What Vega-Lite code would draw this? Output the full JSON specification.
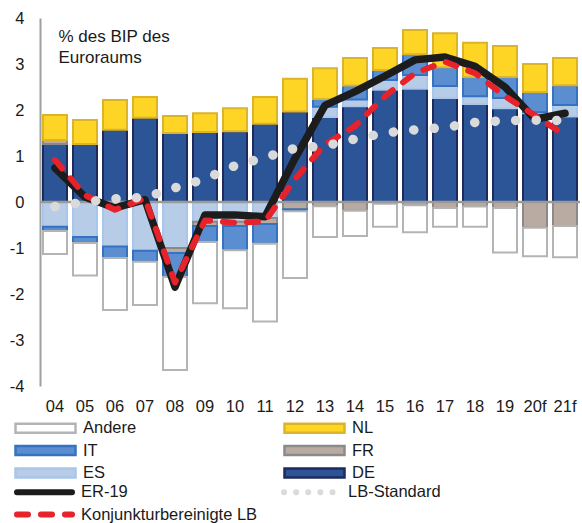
{
  "$schema": "https://vega.github.io/schema/vega-lite/v6.json",
  "width": 540,
  "height": 368,
  "autosize": "none",
  "padding": {"left": 40, "top": 18, "right": 2, "bottom": 137},
  "background": "white",
  "config": {
    "view": {"stroke": null},
    "font": "Liberation Sans",
    "legend": {"labelFont": "Liberation Sans", "labelFontSize": 16.5, "labelColor": "#1a1a1a", "padding": 0, "labelLimit": 300}
  },
  "datasets": {
    "balken": [
      {"Jahr": "04", "Komponente": "DE", "Wert": 1.26},
      {"Jahr": "04", "Komponente": "FR", "Wert": 0.09},
      {"Jahr": "04", "Komponente": "NL", "Wert": 0.54},
      {"Jahr": "04", "Komponente": "ES", "Wert": -0.54},
      {"Jahr": "04", "Komponente": "IT", "Wert": -0.09},
      {"Jahr": "04", "Komponente": "Andere", "Wert": -0.5},
      {"Jahr": "05", "Komponente": "DE", "Wert": 1.26},
      {"Jahr": "05", "Komponente": "NL", "Wert": 0.52},
      {"Jahr": "05", "Komponente": "ES", "Wert": -0.76},
      {"Jahr": "05", "Komponente": "IT", "Wert": -0.13},
      {"Jahr": "05", "Komponente": "Andere", "Wert": -0.71},
      {"Jahr": "06", "Komponente": "DE", "Wert": 1.57},
      {"Jahr": "06", "Komponente": "NL", "Wert": 0.65},
      {"Jahr": "06", "Komponente": "ES", "Wert": -0.97},
      {"Jahr": "06", "Komponente": "IT", "Wert": -0.25},
      {"Jahr": "06", "Komponente": "Andere", "Wert": -1.13},
      {"Jahr": "07", "Komponente": "DE", "Wert": 1.83},
      {"Jahr": "07", "Komponente": "NL", "Wert": 0.45},
      {"Jahr": "07", "Komponente": "ES", "Wert": -1.06},
      {"Jahr": "07", "Komponente": "IT", "Wert": -0.24},
      {"Jahr": "07", "Komponente": "Andere", "Wert": -0.94},
      {"Jahr": "08", "Komponente": "DE", "Wert": 1.5},
      {"Jahr": "08", "Komponente": "NL", "Wert": 0.37},
      {"Jahr": "08", "Komponente": "ES", "Wert": -1.0},
      {"Jahr": "08", "Komponente": "FR", "Wert": -0.11},
      {"Jahr": "08", "Komponente": "IT", "Wert": -0.52},
      {"Jahr": "08", "Komponente": "Andere", "Wert": -2.02},
      {"Jahr": "09", "Komponente": "DE", "Wert": 1.52},
      {"Jahr": "09", "Komponente": "NL", "Wert": 0.41},
      {"Jahr": "09", "Komponente": "ES", "Wert": -0.43},
      {"Jahr": "09", "Komponente": "FR", "Wert": -0.09},
      {"Jahr": "09", "Komponente": "IT", "Wert": -0.35},
      {"Jahr": "09", "Komponente": "Andere", "Wert": -1.33},
      {"Jahr": "10", "Komponente": "DE", "Wert": 1.54},
      {"Jahr": "10", "Komponente": "NL", "Wert": 0.5},
      {"Jahr": "10", "Komponente": "ES", "Wert": -0.43},
      {"Jahr": "10", "Komponente": "FR", "Wert": -0.09},
      {"Jahr": "10", "Komponente": "IT", "Wert": -0.53},
      {"Jahr": "10", "Komponente": "Andere", "Wert": -1.26},
      {"Jahr": "11", "Komponente": "DE", "Wert": 1.7},
      {"Jahr": "11", "Komponente": "NL", "Wert": 0.58},
      {"Jahr": "11", "Komponente": "ES", "Wert": -0.35},
      {"Jahr": "11", "Komponente": "FR", "Wert": -0.13},
      {"Jahr": "11", "Komponente": "IT", "Wert": -0.43},
      {"Jahr": "11", "Komponente": "Andere", "Wert": -1.69},
      {"Jahr": "12", "Komponente": "DE", "Wert": 1.97},
      {"Jahr": "12", "Komponente": "NL", "Wert": 0.71},
      {"Jahr": "12", "Komponente": "FR", "Wert": -0.16},
      {"Jahr": "12", "Komponente": "IT", "Wert": -0.04},
      {"Jahr": "12", "Komponente": "Andere", "Wert": -1.45},
      {"Jahr": "13", "Komponente": "DE", "Wert": 1.85},
      {"Jahr": "13", "Komponente": "ES", "Wert": 0.22},
      {"Jahr": "13", "Komponente": "IT", "Wert": 0.17},
      {"Jahr": "13", "Komponente": "NL", "Wert": 0.67},
      {"Jahr": "13", "Komponente": "FR", "Wert": -0.09},
      {"Jahr": "13", "Komponente": "Andere", "Wert": -0.67},
      {"Jahr": "14", "Komponente": "DE", "Wert": 2.08},
      {"Jahr": "14", "Komponente": "ES", "Wert": 0.15},
      {"Jahr": "14", "Komponente": "IT", "Wert": 0.3},
      {"Jahr": "14", "Komponente": "NL", "Wert": 0.6},
      {"Jahr": "14", "Komponente": "FR", "Wert": -0.19},
      {"Jahr": "14", "Komponente": "Andere", "Wert": -0.55},
      {"Jahr": "15", "Komponente": "DE", "Wert": 2.44},
      {"Jahr": "15", "Komponente": "ES", "Wert": 0.21},
      {"Jahr": "15", "Komponente": "IT", "Wert": 0.22},
      {"Jahr": "15", "Komponente": "NL", "Wert": 0.48},
      {"Jahr": "15", "Komponente": "FR", "Wert": -0.04},
      {"Jahr": "15", "Komponente": "Andere", "Wert": -0.5},
      {"Jahr": "16", "Komponente": "DE", "Wert": 2.46},
      {"Jahr": "16", "Komponente": "ES", "Wert": 0.3},
      {"Jahr": "16", "Komponente": "IT", "Wert": 0.45},
      {"Jahr": "16", "Komponente": "NL", "Wert": 0.53},
      {"Jahr": "16", "Komponente": "FR", "Wert": -0.07},
      {"Jahr": "16", "Komponente": "Andere", "Wert": -0.59},
      {"Jahr": "17", "Komponente": "DE", "Wert": 2.26},
      {"Jahr": "17", "Komponente": "ES", "Wert": 0.26},
      {"Jahr": "17", "Komponente": "IT", "Wert": 0.41},
      {"Jahr": "17", "Komponente": "NL", "Wert": 0.74},
      {"Jahr": "17", "Komponente": "FR", "Wert": -0.13},
      {"Jahr": "17", "Komponente": "Andere", "Wert": -0.41},
      {"Jahr": "18", "Komponente": "DE", "Wert": 2.13},
      {"Jahr": "18", "Komponente": "ES", "Wert": 0.17},
      {"Jahr": "18", "Komponente": "IT", "Wert": 0.42},
      {"Jahr": "18", "Komponente": "NL", "Wert": 0.74},
      {"Jahr": "18", "Komponente": "FR", "Wert": -0.1},
      {"Jahr": "18", "Komponente": "Andere", "Wert": -0.44},
      {"Jahr": "19", "Komponente": "DE", "Wert": 2.04},
      {"Jahr": "19", "Komponente": "ES", "Wert": 0.22},
      {"Jahr": "19", "Komponente": "IT", "Wert": 0.46},
      {"Jahr": "19", "Komponente": "NL", "Wert": 0.67},
      {"Jahr": "19", "Komponente": "FR", "Wert": -0.13},
      {"Jahr": "19", "Komponente": "Andere", "Wert": -0.97},
      {"Jahr": "20f", "Komponente": "DE", "Wert": 1.93},
      {"Jahr": "20f", "Komponente": "ES", "Wert": 0.02},
      {"Jahr": "20f", "Komponente": "IT", "Wert": 0.44},
      {"Jahr": "20f", "Komponente": "NL", "Wert": 0.61},
      {"Jahr": "20f", "Komponente": "FR", "Wert": -0.56},
      {"Jahr": "20f", "Komponente": "Andere", "Wert": -0.62},
      {"Jahr": "21f", "Komponente": "DE", "Wert": 1.86},
      {"Jahr": "21f", "Komponente": "ES", "Wert": 0.25},
      {"Jahr": "21f", "Komponente": "IT", "Wert": 0.43},
      {"Jahr": "21f", "Komponente": "NL", "Wert": 0.59},
      {"Jahr": "21f", "Komponente": "FR", "Wert": -0.52},
      {"Jahr": "21f", "Komponente": "Andere", "Wert": -0.68}
    ],
    "linien": [
      {"Jahr": "04", "Reihe": "ER-19", "Wert": 0.74},
      {"Jahr": "05", "Reihe": "ER-19", "Wert": 0.11},
      {"Jahr": "06", "Reihe": "ER-19", "Wert": -0.13},
      {"Jahr": "07", "Reihe": "ER-19", "Wert": 0.05},
      {"Jahr": "08", "Reihe": "ER-19", "Wert": -1.85},
      {"Jahr": "09", "Reihe": "ER-19", "Wert": -0.28},
      {"Jahr": "10", "Reihe": "ER-19", "Wert": -0.28},
      {"Jahr": "11", "Reihe": "ER-19", "Wert": -0.32},
      {"Jahr": "12", "Reihe": "ER-19", "Wert": 0.95},
      {"Jahr": "13", "Reihe": "ER-19", "Wert": 2.1},
      {"Jahr": "14", "Reihe": "ER-19", "Wert": 2.4},
      {"Jahr": "15", "Reihe": "ER-19", "Wert": 2.74},
      {"Jahr": "16", "Reihe": "ER-19", "Wert": 3.09},
      {"Jahr": "17", "Reihe": "ER-19", "Wert": 3.15},
      {"Jahr": "18", "Reihe": "ER-19", "Wert": 2.95},
      {"Jahr": "19", "Reihe": "ER-19", "Wert": 2.5},
      {"Jahr": "20f", "Reihe": "ER-19", "Wert": 1.8},
      {"Jahr": "21f", "Reihe": "ER-19", "Wert": 1.93},
      {"Jahr": "04", "Reihe": "Konjunkturbereinigte LB", "Wert": 0.91},
      {"Jahr": "05", "Reihe": "Konjunkturbereinigte LB", "Wert": 0.15},
      {"Jahr": "06", "Reihe": "Konjunkturbereinigte LB", "Wert": -0.17},
      {"Jahr": "07", "Reihe": "Konjunkturbereinigte LB", "Wert": 0.08},
      {"Jahr": "08", "Reihe": "Konjunkturbereinigte LB", "Wert": -1.75},
      {"Jahr": "09", "Reihe": "Konjunkturbereinigte LB", "Wert": -0.4},
      {"Jahr": "10", "Reihe": "Konjunkturbereinigte LB", "Wert": -0.45},
      {"Jahr": "11", "Reihe": "Konjunkturbereinigte LB", "Wert": -0.42},
      {"Jahr": "12", "Reihe": "Konjunkturbereinigte LB", "Wert": 0.5},
      {"Jahr": "13", "Reihe": "Konjunkturbereinigte LB", "Wert": 1.25},
      {"Jahr": "14", "Reihe": "Konjunkturbereinigte LB", "Wert": 1.65},
      {"Jahr": "15", "Reihe": "Konjunkturbereinigte LB", "Wert": 2.3},
      {"Jahr": "16", "Reihe": "Konjunkturbereinigte LB", "Wert": 2.8},
      {"Jahr": "17", "Reihe": "Konjunkturbereinigte LB", "Wert": 3.05},
      {"Jahr": "18", "Reihe": "Konjunkturbereinigte LB", "Wert": 2.8},
      {"Jahr": "19", "Reihe": "Konjunkturbereinigte LB", "Wert": 2.3},
      {"Jahr": "20f", "Reihe": "Konjunkturbereinigte LB", "Wert": 1.88},
      {"Jahr": "21f", "Reihe": "Konjunkturbereinigte LB", "Wert": 1.45},
      {"Jahr": "04", "Reihe": "LB-Standard", "Wert": -0.1},
      {"Jahr": "05", "Reihe": "LB-Standard", "Wert": 0.0},
      {"Jahr": "06", "Reihe": "LB-Standard", "Wert": 0.07},
      {"Jahr": "07", "Reihe": "LB-Standard", "Wert": 0.1},
      {"Jahr": "08", "Reihe": "LB-Standard", "Wert": 0.31},
      {"Jahr": "09", "Reihe": "LB-Standard", "Wert": 0.5},
      {"Jahr": "10", "Reihe": "LB-Standard", "Wert": 0.79},
      {"Jahr": "11", "Reihe": "LB-Standard", "Wert": 0.97},
      {"Jahr": "12", "Reihe": "LB-Standard", "Wert": 1.17},
      {"Jahr": "13", "Reihe": "LB-Standard", "Wert": 1.22},
      {"Jahr": "14", "Reihe": "LB-Standard", "Wert": 1.37},
      {"Jahr": "15", "Reihe": "LB-Standard", "Wert": 1.5},
      {"Jahr": "16", "Reihe": "LB-Standard", "Wert": 1.57},
      {"Jahr": "17", "Reihe": "LB-Standard", "Wert": 1.62},
      {"Jahr": "18", "Reihe": "LB-Standard", "Wert": 1.73},
      {"Jahr": "19", "Reihe": "LB-Standard", "Wert": 1.77},
      {"Jahr": "20f", "Reihe": "LB-Standard", "Wert": 1.78},
      {"Jahr": "21f", "Reihe": "LB-Standard", "Wert": 1.77}
    ]
  },
  "layer": [
    {
      "data": {"name": "balken"},
      "transform": [{"calculate": "indexof(['DE', 'ES', 'FR', 'IT', 'NL', 'Andere'], datum.Komponente)", "as": "Stapelfolge"}],
      "mark": {"type": "bar", "strokeWidth": 2},
      "encoding": {
        "x": {
          "field": "Jahr",
          "type": "ordinal",
          "title": null,
          "scale": {"paddingInner": 0.2, "paddingOuter": 0.1},
          "axis": {"domain": false, "ticks": false, "labelAngle": 0, "labelFontSize": 16.5, "labelPadding": 12, "labelColor": "#1a1a1a", "labelFont": "Liberation Sans"}
        },
        "y": {
          "field": "Wert",
          "type": "quantitative",
          "stack": "zero",
          "scale": {"domain": [-4, 4], "nice": false},
          "axis": {
            "values": [-4, -3, -2, -1, 0, 1, 2, 3, 4],
            "labelExpr": "'' + datum.value",
            "grid": false,
            "ticks": false,
            "domainColor": "#a0a0a0",
            "domainWidth": 2,
            "labelFontSize": 16.5,
            "labelFont": "Liberation Sans",
            "labelColor": "#1a1a1a",
            "labelPadding": 16,
            "title": ["% des BIP des", "Euroraums"],
            "titleAngle": 0,
            "titleAlign": "left",
            "titleBaseline": "top",
            "titleX": 18,
            "titleY": 10,
            "titleFont": "Liberation Sans",
            "titleFontSize": 17,
            "titleFontWeight": "normal",
            "titleColor": "#1a1a1a",
            "titleLineHeight": 21
          }
        },
        "order": {"field": "Stapelfolge", "type": "quantitative", "sort": "ascending"},
        "fill": {
          "field": "Komponente",
          "type": "nominal",
          "scale": {
            "domain": ["Andere", "IT", "ES", "NL", "FR", "DE"],
            "range": ["#ffffff", "#5b8ed0", "#b6cce7", "#fed524", "#b9aba1", "#2c5597"]
          },
          "legend": {
            "title": null,
            "orient": "none",
            "legendX": -26,
            "legendY": 402,
            "columns": 2,
            "columnPadding": 146,
            "rowPadding": 5.5,
            "clipHeight": 16,
            "values": ["Andere", "IT", "ES", "NL", "FR", "DE"],
            "symbolType": "M-1,-0.15H1V0.15H-1Z",
            "symbolSize": 3600,
            "symbolStrokeWidth": 2.5,
            "labelOffset": 6
          }
        },
        "stroke": {
          "field": "Komponente",
          "type": "nominal",
          "scale": {
            "domain": ["Andere", "IT", "ES", "NL", "FR", "DE"],
            "range": ["#b4b4b4", "#3572c2", "#a9c6ea", "#dcb42a", "#8a8a8a", "#1f2a5c"]
          }
        }
      }
    },
    {
      "data": {"values": [{"Nulllinie": 0}]},
      "mark": {"type": "rule", "color": "#9a9a9a", "strokeWidth": 2.5},
      "encoding": {"y": {"field": "Nulllinie", "type": "quantitative"}}
    },
    {
      "data": {"name": "linien"},
      "transform": [{"filter": "datum.Reihe === 'ER-19'"}],
      "mark": {"type": "line", "strokeWidth": 7.5, "strokeCap": "round", "strokeJoin": "round"},
      "encoding": {
        "x": {"field": "Jahr", "type": "ordinal"},
        "y": {"field": "Wert", "type": "quantitative"},
        "color": {
          "field": "Reihe",
          "type": "nominal",
          "scale": {"domain": ["ER-19", "Konjunkturbereinigte LB", "LB-Standard"], "range": ["#1c1c1c", "#e8222a", "#dadada"]},
          "legend": {
            "title": null,
            "orient": "none",
            "legendX": -26,
            "legendY": 466,
            "columns": 2,
            "columnPadding": 23,
            "rowPadding": 5.5,
            "clipHeight": 16,
            "values": ["ER-19", "Konjunkturbereinigte LB", "LB-Standard"],
            "symbolType": "stroke",
            "symbolSize": 3025,
            "symbolStrokeWidth": 6,
            "labelOffset": 6,
            "encode": {
              "symbols": {
                "update": {
                  "strokeCap": {"value": "round"},
                  "strokeDash": {"signal": "datum.value === 'LB-Standard' ? [0.1, 12] : datum.value === 'Konjunkturbereinigte LB' ? [11, 13] : [1, 0]"}
                }
              }
            }
          }
        }
      }
    },
    {
      "data": {"name": "linien"},
      "transform": [{"filter": "datum.Reihe === 'Konjunkturbereinigte LB'"}],
      "mark": {"type": "line", "strokeWidth": 6, "strokeCap": "round", "strokeJoin": "round", "strokeDash": [11, 13]},
      "encoding": {
        "x": {"field": "Jahr", "type": "ordinal"},
        "y": {"field": "Wert", "type": "quantitative"},
        "color": {"field": "Reihe", "type": "nominal"}
      }
    },
    {
      "data": {"name": "linien"},
      "transform": [{"filter": "datum.Reihe === 'LB-Standard'"}],
      "mark": {"type": "line", "strokeWidth": 9.5, "strokeCap": "round", "strokeJoin": "round", "strokeDash": [0.1, 20.4]},
      "encoding": {
        "x": {"field": "Jahr", "type": "ordinal"},
        "y": {"field": "Wert", "type": "quantitative"},
        "color": {"field": "Reihe", "type": "nominal"}
      }
    }
  ]
}
